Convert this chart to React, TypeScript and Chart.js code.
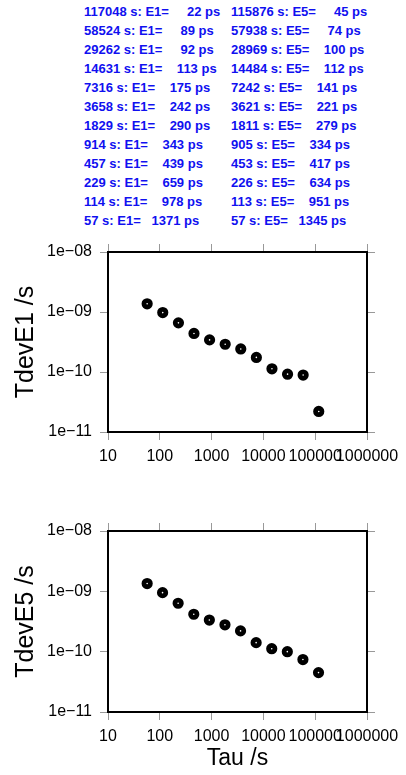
import React, { useEffect, useRef } from 'react';
import { Chart, registerables } from 'chart.js';
Chart.register(...registerables);

const tauE1 = [117048, 58524, 29262, 14631, 7316, 3658, 1829, 914, 457, 229, 114, 57];
const tdevE1ps = [22, 89, 92, 113, 175, 242, 290, 343, 439, 659, 978, 1371];
const tauE5 = [115876, 57938, 28969, 14484, 7242, 3621, 1811, 905, 453, 226, 113, 57];
const tdevE5ps = [45, 74, 100, 112, 141, 221, 279, 334, 417, 634, 951, 1345];
const xTickValues = [10, 100, 1000, 10000, 100000, 1000000];
const yTickValues = [1e-11, 1e-10, 1e-9, 1e-8];

const FONT = '"Liberation Sans", Arial, Helvetica, sans-serif';

function rowText(tau: number, ps: number, name: string) {
  const v = String(ps);
  return `${tau} s: ${name}= ${' '.repeat(Math.max(0, 6 - v.length))}${v} ps`;
}

function yLabel(v: number) {
  const e = Math.round(-Math.log10(v));
  return '1e\u2212' + String(e).padStart(2, '0');
}

type Cfg = {
  height: number;
  padTop: number;
  padRight: number;
  leftWidth: number;
  bottomHeight: number;
  yTitle: string;
  xTitle?: string;
};

function buildChart(canvas: HTMLCanvasElement, tau: number[], ps: number[], cfg: Cfg) {
  const gridOpts = { drawOnChartArea: false, tickLength: 8, color: '#999', lineWidth: 1 };
  const borderOpts = { color: '#000', width: 2 };
  const tickFont = { family: FONT, size: 16 };
  const setX = (s: any) => { s.ticks = xTickValues.map((v) => ({ value: v })); };
  const setY = (s: any) => { s.ticks = yTickValues.map((v) => ({ value: v })); };
  return new Chart(canvas, {
    type: 'scatter',
    data: {
      datasets: [
        {
          data: tau.map((t, i) => ({ x: t, y: ps[i] * 1e-12 })),
          showLine: false,
          pointRadius: 3.2,
          pointBorderWidth: 4.8,
          pointBackgroundColor: '#fff',
          pointBorderColor: '#000',
        },
      ],
    },
    options: {
      animation: false,
      responsive: false,
      layout: { padding: { top: cfg.padTop, right: cfg.padRight, left: 0, bottom: 0 } },
      plugins: { legend: { display: false }, tooltip: { enabled: false } },
      scales: {
        x: {
          type: 'logarithmic',
          position: 'bottom',
          min: 10,
          max: 1000000,
          afterBuildTicks: setX,
          afterFit: (s: any) => { s.height = cfg.bottomHeight; },
          ticks: {
            autoSkip: false,
            maxRotation: 0,
            minRotation: 0,
            padding: 7,
            color: '#000',
            font: tickFont,
            callback: (v: any) => String(v),
          },
          grid: gridOpts,
          border: borderOpts,
          title: {
            display: !!cfg.xTitle,
            text: cfg.xTitle || '',
            color: '#000',
            font: { family: FONT, size: 23 },
            padding: { top: 0, bottom: 3 },
          },
        },
        x2: {
          type: 'logarithmic',
          axis: 'x',
          position: 'top',
          min: 10,
          max: 1000000,
          afterBuildTicks: setX,
          afterFit: (s: any) => { s.height = 8; },
          ticks: { display: false },
          grid: gridOpts,
          border: borderOpts,
        },
        y: {
          type: 'logarithmic',
          position: 'left',
          min: 1e-11,
          max: 1e-8,
          afterBuildTicks: setY,
          afterFit: (s: any) => { s.width = cfg.leftWidth; },
          ticks: {
            autoSkip: false,
            padding: 8,
            color: '#000',
            font: tickFont,
            callback: (v: any) => yLabel(Number(v)),
          },
          grid: gridOpts,
          border: borderOpts,
          title: {
            display: true,
            text: cfg.yTitle,
            color: '#000',
            font: { family: FONT, size: 25 },
            padding: { top: 11, bottom: 0 },
          },
        },
        y2: {
          type: 'logarithmic',
          axis: 'y',
          position: 'right',
          min: 1e-11,
          max: 1e-8,
          afterBuildTicks: setY,
          afterFit: (s: any) => { s.width = 8; },
          ticks: { display: false },
          grid: gridOpts,
          border: borderOpts,
        },
      },
    } as any,
  });
}

function TdevChart(props: { top: number; tau: number[]; ps: number[]; cfg: Cfg }) {
  const ref = useRef<HTMLCanvasElement | null>(null);
  useEffect(() => {
    if (!ref.current) return;
    const chart = buildChart(ref.current, props.tau, props.ps, props.cfg);
    return () => chart.destroy();
  }, []);
  return (
    <canvas
      ref={ref}
      width={406}
      height={props.cfg.height}
      style={{ position: 'absolute', left: 0, top: props.top, width: 406, height: props.cfg.height }}
    />
  );
}

export default function App() {
  const textStyle: React.CSSProperties = {
    position: 'absolute',
    top: 2,
    fontFamily: FONT,
    fontWeight: 'bold',
    fontSize: '13px',
    lineHeight: '19px',
    color: '#1010f0',
    whiteSpace: 'pre',
  };
  return (
    <div style={{ position: 'absolute', left: 0, top: 0, width: 406, height: 775, background: '#fff' }}>
      <div style={{ ...textStyle, left: 84 }}>
        {tauE1.map((t, i) => (
          <div key={i}>{rowText(t, tdevE1ps[i], 'E1')}</div>
        ))}
      </div>
      <div style={{ ...textStyle, left: 231 }}>
        {tauE5.map((t, i) => (
          <div key={i}>{rowText(t, tdevE5ps[i], 'E5')}</div>
        ))}
      </div>
      <TdevChart
        top={230}
        tau={tauE1}
        ps={tdevE1ps}
        cfg={{ height: 250, padTop: 14, padRight: 31, leftWidth: 108, bottomHeight: 48, yTitle: 'TdevE1 /s' }}
      />
      <TdevChart
        top={510}
        tau={tauE5}
        ps={tdevE5ps}
        cfg={{ height: 265, padTop: 13, padRight: 31, leftWidth: 108, bottomHeight: 63, yTitle: 'TdevE5 /s', xTitle: 'Tau /s' }}
      />
    </div>
  );
}
